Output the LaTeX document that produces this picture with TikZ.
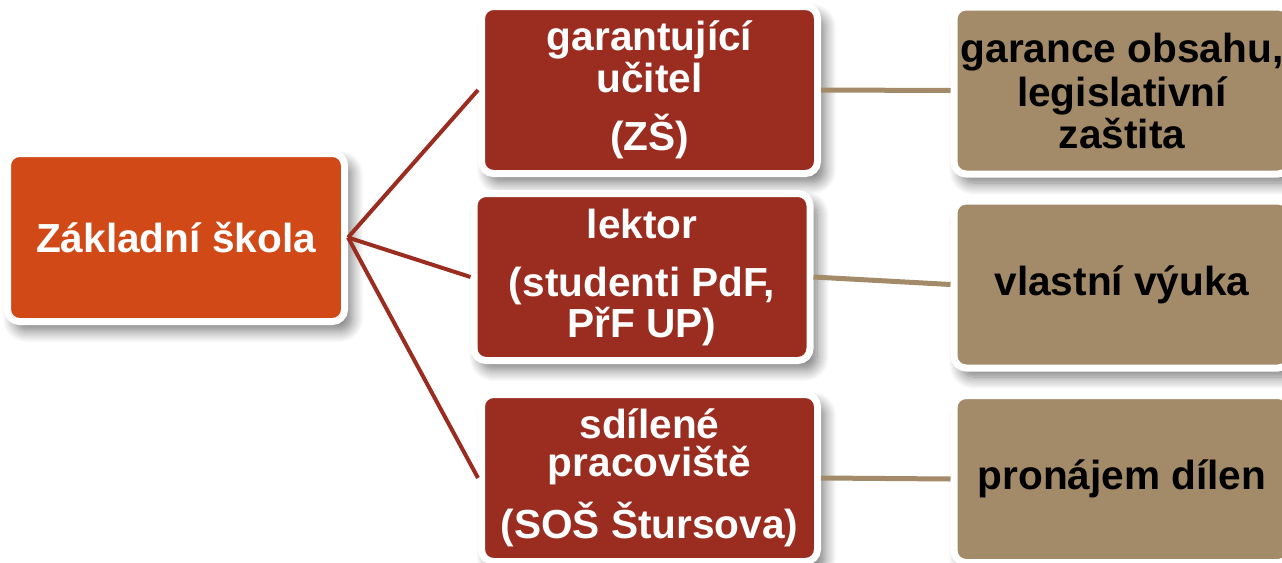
\documentclass[tikz,border=0pt]{standalone}
\usepackage{fontspec}
\setmainfont{Liberation Sans}
\usetikzlibrary{shadows.blur}

\definecolor{skolaorange}{RGB}{209,73,23}
\definecolor{rolered}{RGB}{155,45,32}
\definecolor{tasktan}{RGB}{163,139,106}

\tikzset{
  box/.style={rounded corners=6pt, draw=white, line width=3.5pt, align=center,
    inner sep=0pt, font=\bfseries\fontsize{20.3pt}{21pt}\selectfont,
    blur shadow={shadow xshift=3.5pt, shadow yshift=-4.5pt, shadow blur radius=6pt,
      shadow blur steps=12, shadow opacity=55}},
  skolabox/.style={box, fill=skolaorange, text=white, minimum width=168.5pt, minimum height=84pt},
  rolebox/.style={box, fill=rolered, text=white, minimum width=168pt, minimum height=83.5pt},
  taskbox/.style={box, fill=tasktan, text=black, minimum width=168pt, minimum height=83.5pt},
  redline/.style={draw=rolered, line width=2pt},
  tanline/.style={draw=tasktan, line width=2.5pt},
}

\begin{document}
\begin{tikzpicture}[x=0.5pt,y=-0.5pt]
  \useasboundingbox (0,0) rectangle (1282,563);
  % root
  \node [skolabox] (zs) at (176,237.5) {Základní škola};
  % roles
  \node [rolebox] (ucitel) at (649.5,90) {garantující\\učitel\\[8pt](ZŠ)};
  \node [rolebox] (lektor) at (642,277) {lektor\\[8pt](studenti PdF,\\[-0.5pt]PřF UP)};
  \node [rolebox] (dilna) at (649.5,478) {sdílené\\[-2pt]pracoviště\\[7.5pt](SOŠ Štursova)};
  % tasks
  \node [taskbox] (garance) at (1122,90.5) {garance obsahu,\\[1pt]legislativní\\zaštita};
  \node [taskbox] (vyuka) at (1122,284.5) {vlastní výuka};
  \node [taskbox] (pronajem) at (1122,479) {pronájem dílen};
  % connectors
  \draw [redline] (zs.east) -- (ucitel.west);
  \draw [redline] (zs.east) -- (lektor.west);
  \draw [redline] (zs.east) -- (dilna.west);
  \draw [tanline] (ucitel.east) -- (garance.west);
  \draw [tanline] (lektor.east) -- (vyuka.west);
  \draw [tanline] (dilna.east) -- (pronajem.west);
\end{tikzpicture}
\end{document}
